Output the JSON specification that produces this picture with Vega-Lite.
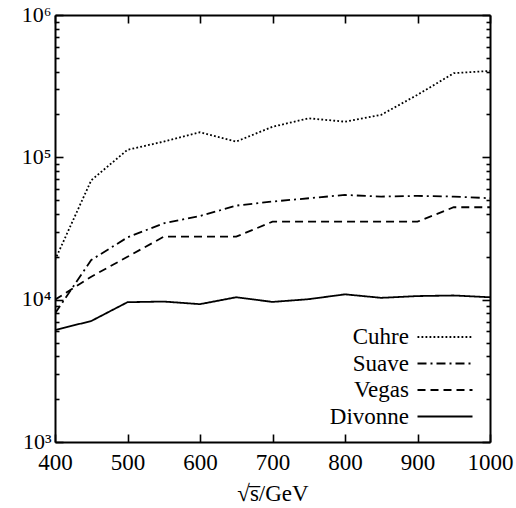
{
  "$schema": "https://vega.github.io/schema/vega-lite/v6.json",
  "autosize": {"type": "none"},
  "padding": {"left": 55, "top": 15, "right": 26, "bottom": 66},
  "width": 435,
  "height": 427,
  "background": "white",
  "config": {
    "font": "Liberation Serif, serif",
    "view": {"stroke": null},
    "axis": {
      "domainColor": "black", "domainWidth": 2, "tickColor": "black", "tickWidth": 1.6,
      "labelColor": "black", "labelFont": "Liberation Serif, serif", "labelFontSize": 23,
      "titleColor": "black", "titleFont": "Liberation Serif, serif", "titleFontSize": 23, "titleFontWeight": "normal",
      "grid": false
    }
  },
  "data": {"values": [
    {"x": 400, "v": 19000, "m": "Cuhre"}, {"x": 450, "v": 69000, "m": "Cuhre"}, {"x": 500, "v": 113000, "m": "Cuhre"},
    {"x": 550, "v": 129000, "m": "Cuhre"}, {"x": 600, "v": 150000, "m": "Cuhre"}, {"x": 650, "v": 129000, "m": "Cuhre"},
    {"x": 700, "v": 164000, "m": "Cuhre"}, {"x": 750, "v": 188000, "m": "Cuhre"}, {"x": 800, "v": 178000, "m": "Cuhre"},
    {"x": 850, "v": 199000, "m": "Cuhre"}, {"x": 900, "v": 275000, "m": "Cuhre"}, {"x": 950, "v": 390000, "m": "Cuhre"},
    {"x": 1000, "v": 405000, "m": "Cuhre"},
    {"x": 400, "v": 8000, "m": "Suave"}, {"x": 450, "v": 19000, "m": "Suave"}, {"x": 500, "v": 27400, "m": "Suave"},
    {"x": 550, "v": 34400, "m": "Suave"}, {"x": 600, "v": 38700, "m": "Suave"}, {"x": 650, "v": 45800, "m": "Suave"},
    {"x": 700, "v": 48900, "m": "Suave"}, {"x": 750, "v": 51600, "m": "Suave"}, {"x": 800, "v": 54400, "m": "Suave"},
    {"x": 850, "v": 53000, "m": "Suave"}, {"x": 900, "v": 53600, "m": "Suave"}, {"x": 950, "v": 53000, "m": "Suave"},
    {"x": 1000, "v": 51600, "m": "Suave"},
    {"x": 400, "v": 10000, "m": "Vegas"}, {"x": 450, "v": 14500, "m": "Vegas"}, {"x": 500, "v": 20000, "m": "Vegas"},
    {"x": 550, "v": 27700, "m": "Vegas"}, {"x": 600, "v": 27700, "m": "Vegas"}, {"x": 650, "v": 27700, "m": "Vegas"},
    {"x": 700, "v": 35300, "m": "Vegas"}, {"x": 750, "v": 35300, "m": "Vegas"}, {"x": 800, "v": 35300, "m": "Vegas"},
    {"x": 850, "v": 35300, "m": "Vegas"}, {"x": 900, "v": 35300, "m": "Vegas"}, {"x": 950, "v": 44600, "m": "Vegas"},
    {"x": 1000, "v": 44600, "m": "Vegas"},
    {"x": 400, "v": 6120, "m": "Divonne"}, {"x": 450, "v": 7080, "m": "Divonne"}, {"x": 500, "v": 9600, "m": "Divonne"},
    {"x": 550, "v": 9700, "m": "Divonne"}, {"x": 600, "v": 9300, "m": "Divonne"}, {"x": 650, "v": 10400, "m": "Divonne"},
    {"x": 700, "v": 9640, "m": "Divonne"}, {"x": 750, "v": 10080, "m": "Divonne"}, {"x": 800, "v": 10900, "m": "Divonne"},
    {"x": 850, "v": 10300, "m": "Divonne"}, {"x": 900, "v": 10600, "m": "Divonne"}, {"x": 950, "v": 10700, "m": "Divonne"},
    {"x": 1000, "v": 10400, "m": "Divonne"}
  ]},
  "resolve": {"axis": {"x": "independent", "y": "independent"}},
  "layer": [
    {
      "mark": {"type": "line", "color": "black", "strokeWidth": 1.8, "clip": true},
      "encoding": {
        "x": {"field": "x", "type": "quantitative",
          "scale": {"domain": [400, 1000], "nice": false, "zero": false},
          "axis": {"orient": "bottom", "values": [400, 500, 600, 700, 800, 900, 1000], "format": "d", "tickSize": -8,
            "labelOverlap": false, "labelFlush": false,
            "labelPadding": 17, "title": "√s̅/GeV", "titlePadding": 8}},
        "y": {"field": "v", "type": "quantitative",
          "scale": {"type": "log", "domain": [1000, 1000000], "nice": false},
          "axis": {"orient": "left", "values": [1000, 10000, 100000, 1000000], "tickSize": -8, "labelPadding": 12,
            "labelOverlap": false, "labelFlush": false, "labelFontSize": 22,
            "labelExpr": "datum.value == 1000 ? '10³' : datum.value == 10000 ? '10⁴' : datum.value == 100000 ? '10⁵' : '10⁶'",
            "labelBaseline": "alphabetic", "labelOffset": 6, "title": null}},
        "detail": {"field": "m"},
        "strokeDash": {"field": "m", "type": "nominal",
          "scale": {"domain": ["Cuhre", "Suave", "Vegas", "Divonne"], "range": [[1.8, 2.2], [9, 4, 2, 4], [8, 5], [1, 0]]},
          "legend": {"title": null, "orient": "bottom-right", "offset": 13, "symbolType": "M-2.5,0H2.5", "symbolSize": 484,
            "symbolStrokeWidth": 2, "symbolStrokeColor": "black", "labelFontSize": 23, "labelColor": "black",
            "labelAlign": "right", "labelOffset": -48, "rowPadding": 2.5, "labelFont": "Liberation Serif, serif"}}
      }
    },
    {
      "mark": {"type": "line", "opacity": 0},
      "encoding": {
        "x": {"field": "x", "type": "quantitative", "scale": {"domain": [400, 1000], "nice": false, "zero": false},
          "axis": {"orient": "top", "values": [400, 500, 600, 700, 800, 900, 1000], "tickSize": -8, "labels": false, "title": null}},
        "y": {"field": "v", "type": "quantitative", "scale": {"type": "log", "domain": [1000, 1000000], "nice": false},
          "axis": {"orient": "right", "values": [1000, 10000, 100000, 1000000], "tickSize": -8, "labels": false, "title": null}},
        "detail": {"field": "m"}
      }
    },
    {
      "mark": {"type": "line", "opacity": 0},
      "encoding": {
        "x": {"field": "x", "type": "quantitative", "scale": {"domain": [400, 1000], "nice": false, "zero": false}, "axis": null},
        "y": {"field": "v", "type": "quantitative", "scale": {"type": "log", "domain": [1000, 1000000], "nice": false},
          "axis": {"orient": "left", "values": [2000, 3000, 4000, 5000, 6000, 7000, 8000, 9000, 20000, 30000, 40000, 50000, 60000, 70000, 80000, 90000, 200000, 300000, 400000, 500000, 600000, 700000, 800000, 900000],
            "tickSize": -4, "labels": false, "domain": false, "title": null}},
        "detail": {"field": "m"}
      }
    },
    {
      "mark": {"type": "line", "opacity": 0},
      "encoding": {
        "x": {"field": "x", "type": "quantitative", "scale": {"domain": [400, 1000], "nice": false, "zero": false}, "axis": null},
        "y": {"field": "v", "type": "quantitative", "scale": {"type": "log", "domain": [1000, 1000000], "nice": false},
          "axis": {"orient": "right", "values": [2000, 3000, 4000, 5000, 6000, 7000, 8000, 9000, 20000, 30000, 40000, 50000, 60000, 70000, 80000, 90000, 200000, 300000, 400000, 500000, 600000, 700000, 800000, 900000],
            "tickSize": -4, "labels": false, "domain": false, "title": null}},
        "detail": {"field": "m"}
      }
    }
  ]
}
